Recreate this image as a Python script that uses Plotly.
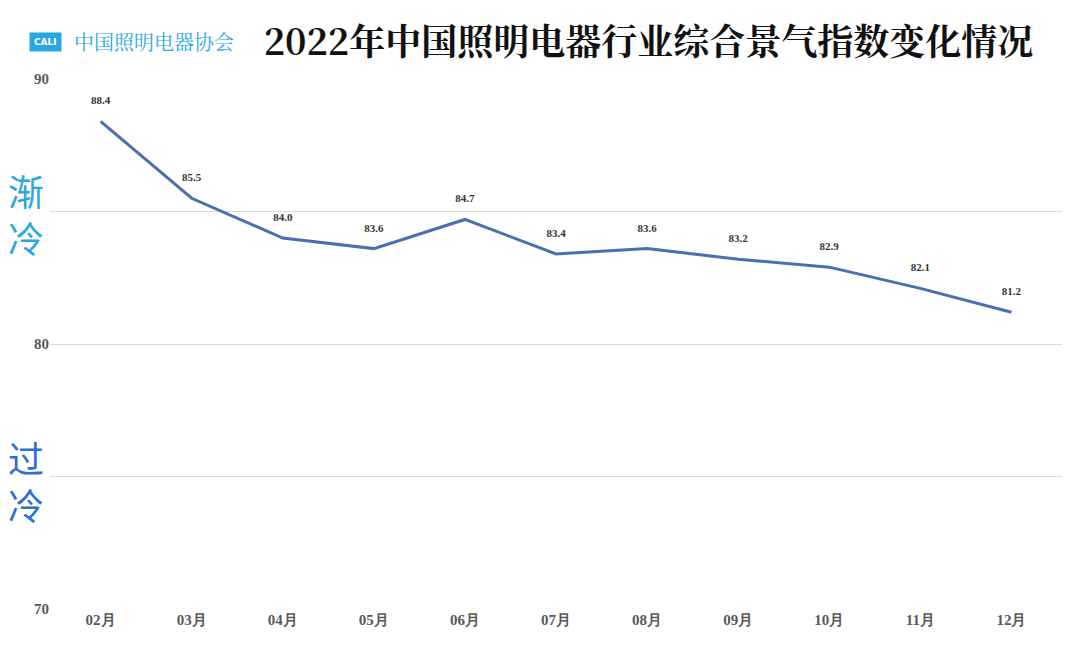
import plotly.graph_objects as go

months = ["02月", "03月", "04月", "05月", "06月", "07月", "08月", "09月", "10月", "11月", "12月"]
index_values = [88.4, 85.5, 84.0, 83.6, 84.7, 83.4, 83.6, 83.2, 82.9, 82.1, 81.2]
y_ticks = [70, 75, 80, 85, 90]
y_tick_text = ["<b>70</b>", "", "<b>80</b>", "", "<b>90</b>"]

serif = "Liberation Serif, DejaVu Serif, serif"

fig = go.Figure(go.Scatter(
    x=months, y=index_values, mode="lines+text",
    line=dict(color="#4a6fae", width=3),
    text=[f"<b>{v:.1f}</b><br> " for v in index_values],
    textposition="top center",
    textfont=dict(family=serif, size=11, color="#333333"),
    cliponaxis=False,
))

fig.update_layout(
    width=1080, height=662,
    margin=dict(l=42, r=26, t=71, b=61, autoexpand=False),
    paper_bgcolor="white", plot_bgcolor="white",
    showlegend=False,
    title=dict(text="<b>2022年中国照明电器行业综合景气指数变化情况</b>",
               x=0.593, xanchor="center", y=0.948, yanchor="middle",
               font=dict(family="Noto Serif CJK SC, Noto Sans CJK SC", size=36, color="#111111")),
    xaxis=dict(showgrid=False, showline=False, ticks="", automargin=False,
               ticktext=[f"<b>{m}</b>" for m in months], tickvals=months,
               tickfont=dict(family=serif, size=15, color="#595959")),
    yaxis=dict(range=[70, 90], tickvals=y_ticks, ticktext=y_tick_text, automargin=False,
               gridcolor="#d9d9d9", gridwidth=1, zeroline=False, showline=False,
               tickfont=dict(family=serif, size=15, color="#595959")),
    annotations=[
        dict(text="渐<br>冷", x=-0.024, y=0.747, xref="paper", yref="paper", showarrow=False,
             xanchor="center", yanchor="middle",
             font=dict(family="Noto Sans CJK SC", size=36, color="#2aa7df")),
        dict(text="过<br>冷", x=-0.024, y=0.243, xref="paper", yref="paper", showarrow=False,
             xanchor="center", yanchor="middle",
             font=dict(family="Noto Sans CJK SC", size=36, color="#2e6fcf")),
        dict(text="<b>CALI</b>", x=-0.004, y=1.07, xref="paper", yref="paper", showarrow=False,
             xanchor="center", yanchor="middle",
             font=dict(family="DejaVu Sans", size=9, color="white"),
             bgcolor="#2aa7df", borderpad=4),
        dict(text="中国照明电器协会", x=0.103, y=1.07, xref="paper", yref="paper", showarrow=False,
             xanchor="center", yanchor="middle",
             font=dict(family="Noto Serif CJK SC, Noto Sans CJK SC", size=20, color="#2aa7df")),
    ],
)

fig.write_html("out.html")
